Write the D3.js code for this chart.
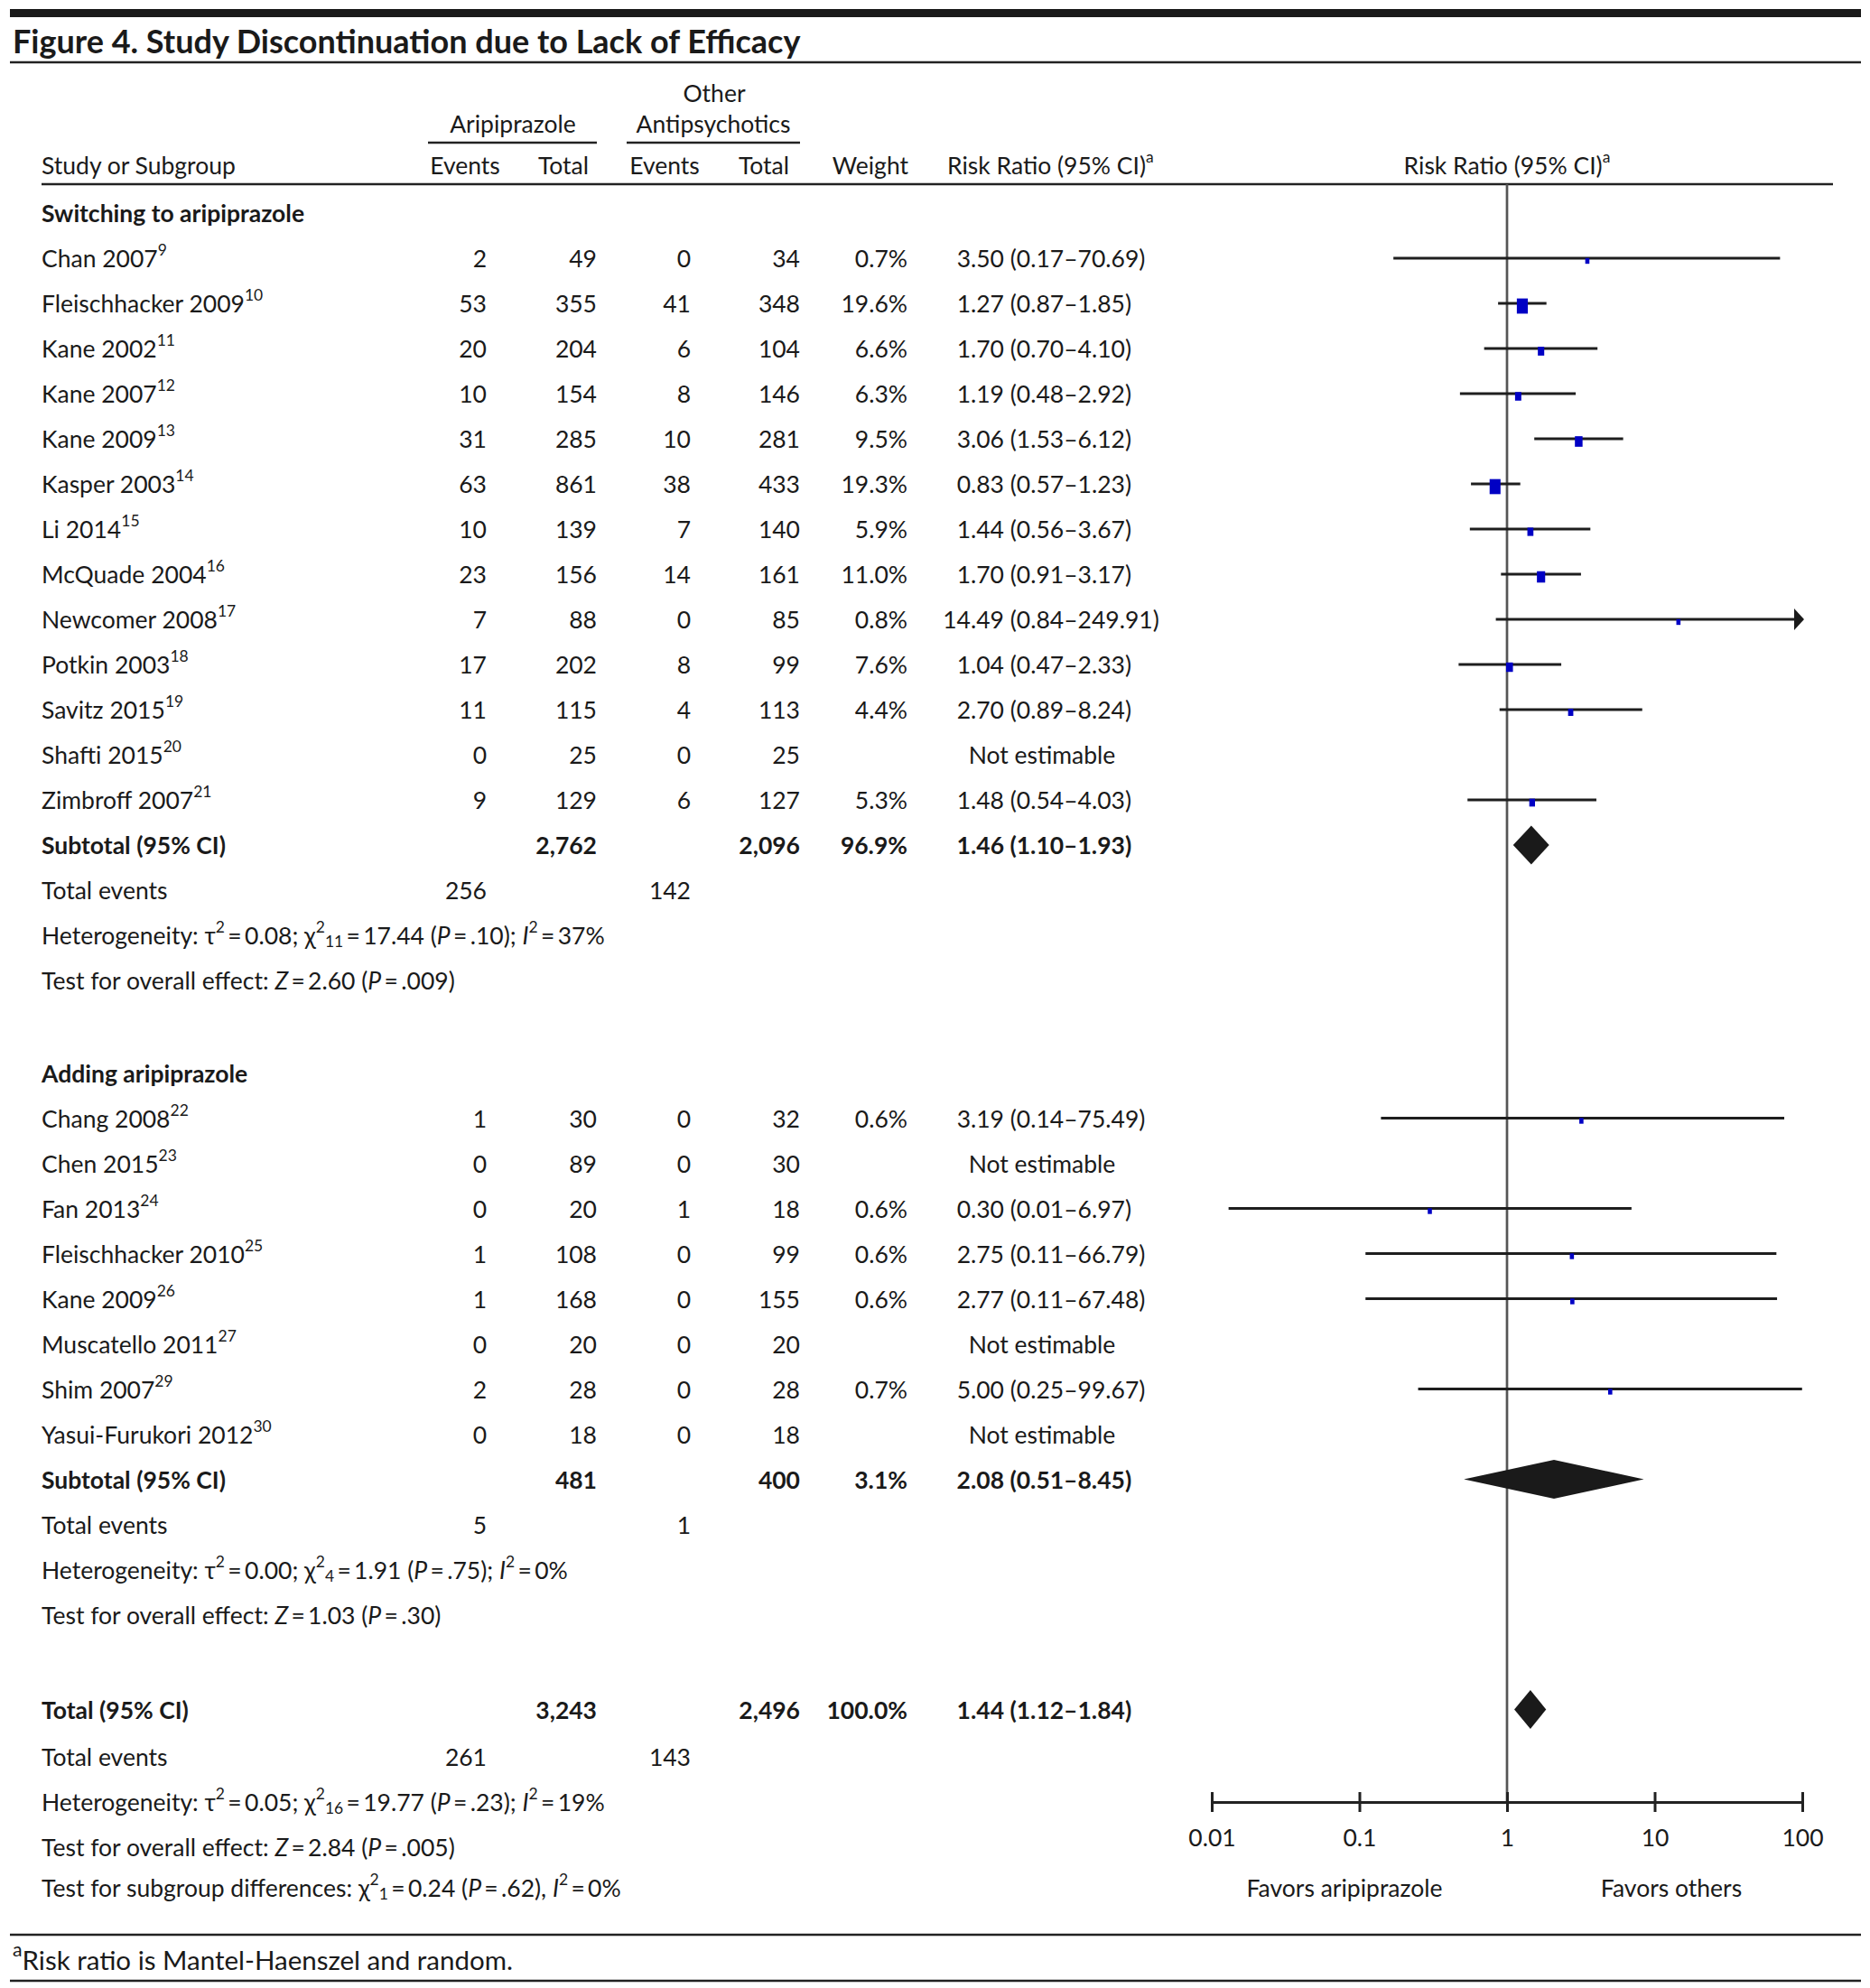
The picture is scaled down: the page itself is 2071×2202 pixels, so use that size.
<!DOCTYPE html>
<html><head><meta charset="utf-8">
<script src="https://cdn.jsdelivr.net/npm/d3@7/dist/d3.min.js"></script>
<style>
body{margin:0;background:#fff}
svg text{font-family:Lato,'Open Sans',sans-serif;fill:#1a1a1a;white-space:pre}
</style>
</head><body>
<svg id="c" width="2071" height="2202"></svg>
<script>
// ---------- DATA ----------
const groupTitles = ["Switching to aripiprazole", "Adding aripiprazole"];

const g1Names = ["Chan 2007","Fleischhacker 2009","Kane 2002","Kane 2007","Kane 2009","Kasper 2003","Li 2014","McQuade 2004","Newcomer 2008","Potkin 2003","Savitz 2015","Shafti 2015","Zimbroff 2007"];
const g1Refs = [9,10,11,12,13,14,15,16,17,18,19,20,21];
const g1AripEvents = [2,53,20,10,31,63,10,23,7,17,11,0,9];
const g1AripTotal = [49,355,204,154,285,861,139,156,88,202,115,25,129];
const g1OtherEvents = [0,41,6,8,10,38,7,14,0,8,4,0,6];
const g1OtherTotal = [34,348,104,146,281,433,140,161,85,99,113,25,127];
const g1Weight = [0.7,19.6,6.6,6.3,9.5,19.3,5.9,11.0,0.8,7.6,4.4,null,5.3];
const g1RR = [3.50,1.27,1.70,1.19,3.06,0.83,1.44,1.70,14.49,1.04,2.70,null,1.48];
const g1Lo = [0.17,0.87,0.70,0.48,1.53,0.57,0.56,0.91,0.84,0.47,0.89,null,0.54];
const g1Hi = [70.69,1.85,4.10,2.92,6.12,1.23,3.67,3.17,249.91,2.33,8.24,null,4.03];

const g2Names = ["Chang 2008","Chen 2015","Fan 2013","Fleischhacker 2010","Kane 2009","Muscatello 2011","Shim 2007","Yasui-Furukori 2012"];
const g2Refs = [22,23,24,25,26,27,29,30];
const g2AripEvents = [1,0,0,1,1,0,2,0];
const g2AripTotal = [30,89,20,108,168,20,28,18];
const g2OtherEvents = [0,0,1,0,0,0,0,0];
const g2OtherTotal = [32,30,18,99,155,20,28,18];
const g2Weight = [0.6,null,0.6,0.6,0.6,null,0.7,null];
const g2RR = [3.19,null,0.30,2.75,2.77,null,5.00,null];
const g2Lo = [0.14,null,0.013,0.11,0.11,null,0.25,null];
const g2Hi = [75.49,null,6.97,66.79,67.48,null,99.67,null];

const subAripTotal = [2762, 481];
const subOtherTotal = [2096, 400];
const subWeight = [96.9, 3.1];
const subRR = [1.46, 2.08];
const subLo = [1.10, 0.51];
const subHi = [1.93, 8.45];
const subAripEvents = [256, 5];
const subOtherEvents = [142, 1];
const subHet = [
  "Heterogeneity: τ^{2}\u2009=\u20090.08; χ^{2}_{11}\u2009=\u200917.44 (*P*\u2009=\u2009.10); *I*^{2}\u2009=\u200937%",
  "Heterogeneity: τ^{2}\u2009=\u20090.00; χ^{2}_{4}\u2009=\u20091.91 (*P*\u2009=\u2009.75); *I*^{2}\u2009=\u20090%"
];
const subEffect = [
  "Test for overall effect: *Z*\u2009=\u20092.60 (*P*\u2009=\u2009.009)",
  "Test for overall effect: *Z*\u2009=\u20091.03 (*P*\u2009=\u2009.30)"
];

const totAripTotal = 3243, totOtherTotal = 2496, totWeight = 100.0;
const totRR = 1.44, totLo = 1.12, totHi = 1.84;
const totAripEvents = 261, totOtherEvents = 143;
const totHet = "Heterogeneity: τ^{2}\u2009=\u20090.05; χ^{2}_{16}\u2009=\u200919.77 (*P*\u2009=\u2009.23); *I*^{2}\u2009=\u200919%";
const totEffect = "Test for overall effect: *Z*\u2009=\u20092.84 (*P*\u2009=\u2009.005)";
const subgroupDiff = "Test for subgroup differences: χ^{2}_{1}\u2009=\u20090.24 (*P*\u2009=\u2009.62), *I*^{2}\u2009=\u20090%";

const axisTicks = [0.01, 0.1, 1, 10, 100];
const favorLabels = ["Favors aripiprazole", "Favors others"];
const titleText = "Figure 4. Study Discontinuation due to Lack of Efficacy";
const footnote = "^{a}Risk ratio is Mantel-Haenszel and random.";

// ---------- LAYOUT ----------
const FS = 26.5;
const svg = d3.select("#c");
const x = d3.scaleLog().domain([0.01, 100]).range([1342, 1996]);
const y = d3.scaleLinear().domain([0, 1]).range([236, 286]);
const col = {label: 46, aEv: 539, aTot: 661, oEv: 765, oTot: 886, wt: 1005, est: 1112, ne: 1154};
const fmt = d3.format(",");
const f2 = v => v.toFixed(2);

function parseRich(s) {
  const re = /\^\{([^}]*)\}|_\{([^}]*)\}|\*([^*]*)\*|([^\^_*]+)/g;
  const out = []; let m;
  while ((m = re.exec(s))) {
    if (m[1] !== undefined) out.push({t: m[1], sup: 1});
    else if (m[2] !== undefined) out.push({t: m[2], sub: 1});
    else if (m[3] !== undefined) out.push({t: m[3], it: 1});
    else out.push({t: m[4]});
  }
  return out;
}
function rich(g, xx, yy, s, o = {}) {
  const fs = o.size || FS;
  const t = g.append("text").attr("x", xx).attr("y", yy)
    .attr("text-anchor", o.anchor || "start")
    .attr("font-weight", o.bold ? "bold" : "normal")
    .attr("font-size", fs).attr("dominant-baseline", "central");
  let cur = 0;
  parseRich(s).forEach(sg => {
    let target = 0, sz = null;
    if (sg.sup) { target = -0.36 * fs; sz = (o.supScale || 0.66) * fs; }
    else if (sg.sub) { target = 0.24 * fs; sz = 0.66 * fs; }
    const sp = t.append("tspan").attr("dy", target - cur).text(sg.t);
    cur = target;
    if (sz) sp.attr("font-size", sz);
    if (sg.it) sp.attr("font-style", "italic");
  });
  return t;
}
function txt(g, xx, yy, s, anchor, bold) {
  return g.append("text").attr("x", xx).attr("y", yy).attr("text-anchor", anchor || "start")
    .attr("font-weight", bold ? "bold" : "normal").attr("font-size", FS)
    .attr("dominant-baseline", "central").text(s);
}

// ---------- FRAME / HEADERS ----------
svg.append("rect").attr("x", 11).attr("y", 10).attr("width", 2050).attr("height", 9).attr("fill", "#1a1a1a");
svg.append("text").attr("x", 14).attr("y", 45).attr("font-size", 36).attr("font-weight", "bold")
  .attr("dominant-baseline", "central").text(titleText);
const hline = (x1, x2, yy, w) => svg.append("line").attr("x1", x1).attr("x2", x2).attr("y1", yy).attr("y2", yy)
  .attr("stroke", "#222").attr("stroke-width", w || 2.5);
hline(11, 2061, 69, 2.5);

const hg = svg.append("g");
txt(hg, 791, 103, "Other", "middle");
txt(hg, 568, 137, "Aripiprazole", "middle");
txt(hg, 790, 137, "Antipsychotics", "middle");
hline(474, 661, 158, 2.5);
hline(694, 886, 158, 2.5);
txt(hg, col.label, 183, "Study or Subgroup");
txt(hg, 515, 183, "Events", "middle");
txt(hg, 624, 183, "Total", "middle");
txt(hg, 736, 183, "Events", "middle");
txt(hg, 846, 183, "Total", "middle");
txt(hg, 1006, 183, "Weight", "end");
rich(hg, 1049, 183, "Risk Ratio (95% CI)^{a}");
rich(hg, x(1), 183, "Risk Ratio (95% CI)^{a}", {anchor: "middle"});
hline(46, 2030, 204, 2.5);

// reference line at RR = 1
const axisY = y(35.2);
svg.append("line").attr("x1", x(1)).attr("x2", x(1)).attr("y1", 204).attr("y2", axisY)
  .attr("stroke", "#555").attr("stroke-width", 2.7);

// ---------- ROWS ----------
const body = svg.append("g");
const plot = svg.append("g");

function studyRow(i, name, ref, ae, at, oe, ot, wt, rr, lo, hi) {
  const yy = y(i);
  rich(body, col.label, yy, name + "^{" + ref + "}");
  txt(body, col.aEv, yy, String(ae), "end");
  txt(body, col.aTot, yy, fmt(at), "end");
  txt(body, col.oEv, yy, String(oe), "end");
  txt(body, col.oTot, yy, fmt(ot), "end");
  if (rr == null) {
    txt(body, col.ne, yy, "Not estimable", "middle");
    return;
  }
  txt(body, col.wt, yy, wt.toFixed(1) + "%", "end");
  txt(body, col.est, yy, f2(rr), "end");
  txt(body, col.est, yy, " (" + f2(lo) + "–" + f2(hi) + ")");
  const [d0, d1] = x.domain();
  plot.append("line").attr("x1", x(Math.max(lo, d0))).attr("x2", x(Math.min(hi, d1)))
    .attr("y1", yy).attr("y2", yy).attr("stroke", "#1e1e1e").attr("stroke-width", 3.2);
  if (hi > d1) {
    const tx = x(d1) + 2;
    plot.append("path").attr("d", `M${tx},${yy}L${tx - 11},${yy - 12}L${tx - 11},${yy + 12}Z`).attr("fill", "#1a1a1a");
  }
  const w = Math.max(4.6, 2.75 * Math.sqrt(wt)), h = w * 1.38;
  plot.append("rect").attr("x", x(rr) - w / 2).attr("y", yy + 3 - h / 2).attr("width", w).attr("height", h)
    .attr("fill", "#0000c4");
}
function diamond(yy, rr, lo, hi) {
  const h = 21.5;
  plot.append("path").attr("d", `M${x(lo)},${yy}L${x(rr)},${yy - h}L${x(hi)},${yy}L${x(rr)},${yy + h}Z`)
    .attr("fill", "#1a1a1a");
}
function summaryRow(i, label, at, ot, wt, rr, lo, hi) {
  const yy = y(i);
  txt(body, col.label, yy, label, "start", true);
  txt(body, col.aTot, yy, fmt(at), "end", true);
  txt(body, col.oTot, yy, fmt(ot), "end", true);
  txt(body, col.wt, yy, wt.toFixed(1) + "%", "end", true);
  txt(body, col.est, yy, f2(rr), "end", true);
  txt(body, col.est, yy, " (" + f2(lo) + "–" + f2(hi) + ")", "start", true);
  diamond(yy, rr, lo, hi);
}
function eventsRow(i, ae, oe) {
  const yy = y(i);
  txt(body, col.label, yy, "Total events");
  txt(body, col.aEv, yy, String(ae), "end");
  txt(body, col.oEv, yy, String(oe), "end");
}

const groups = [
  {start: 0, names: g1Names, refs: g1Refs, ae: g1AripEvents, at: g1AripTotal, oe: g1OtherEvents, ot: g1OtherTotal, wt: g1Weight, rr: g1RR, lo: g1Lo, hi: g1Hi},
  {start: 19.05, names: g2Names, refs: g2Refs, ae: g2AripEvents, at: g2AripTotal, oe: g2OtherEvents, ot: g2OtherTotal, wt: g2Weight, rr: g2RR, lo: g2Lo, hi: g2Hi}
];
groups.forEach((g, gi) => {
  txt(body, col.label, y(g.start), groupTitles[gi], "start", true);
  g.names.forEach((n, k) => studyRow(g.start + 1 + k, n, g.refs[k], g.ae[k], g.at[k], g.oe[k], g.ot[k], g.wt[k], g.rr[k], g.lo[k], g.hi[k]));
  const s = g.start + 1 + g.names.length;
  summaryRow(s, "Subtotal (95% CI)", subAripTotal[gi], subOtherTotal[gi], subWeight[gi], subRR[gi], subLo[gi], subHi[gi]);
  eventsRow(s + 1, subAripEvents[gi], subOtherEvents[gi]);
  rich(body, col.label, y(s + 2), subHet[gi]);
  rich(body, col.label, y(s + 3), subEffect[gi]);
});
summaryRow(33.15, "Total (95% CI)", totAripTotal, totOtherTotal, totWeight, totRR, totLo, totHi);
eventsRow(34.2, totAripEvents, totOtherEvents);
rich(body, col.label, y(35.2), totHet);
rich(body, col.label, y(36.2), totEffect);
rich(body, col.label, y(37.1), subgroupDiff);

// ---------- AXIS ----------
const ax = svg.append("g").attr("transform", `translate(0,${axisY})`)
  .call(d3.axisBottom(x).tickValues(axisTicks).tickFormat(d => String(d)).tickSize(11).tickSizeOuter(0).tickPadding(19));
ax.attr("font-family", null).attr("font-size", null);
ax.select(".domain").attr("stroke", "#222").attr("stroke-width", 3);
ax.selectAll(".tick line").attr("y1", -11).attr("y2", 11).attr("stroke", "#222").attr("stroke-width", 3);
ax.selectAll(".tick text").attr("font-size", FS).attr("fill", "#1a1a1a");
txt(svg, 1489, y(37.1), favorLabels[0], "middle");
txt(svg, 1851, y(37.1), favorLabels[1], "middle");

// ---------- FOOTNOTE ----------
hline(11, 2061, 2143, 2.5);
rich(svg, 14, 2170, footnote, {size: 29.5, supScale: 0.72});
hline(11, 2061, 2194, 2.5);
</script>
</body></html>
